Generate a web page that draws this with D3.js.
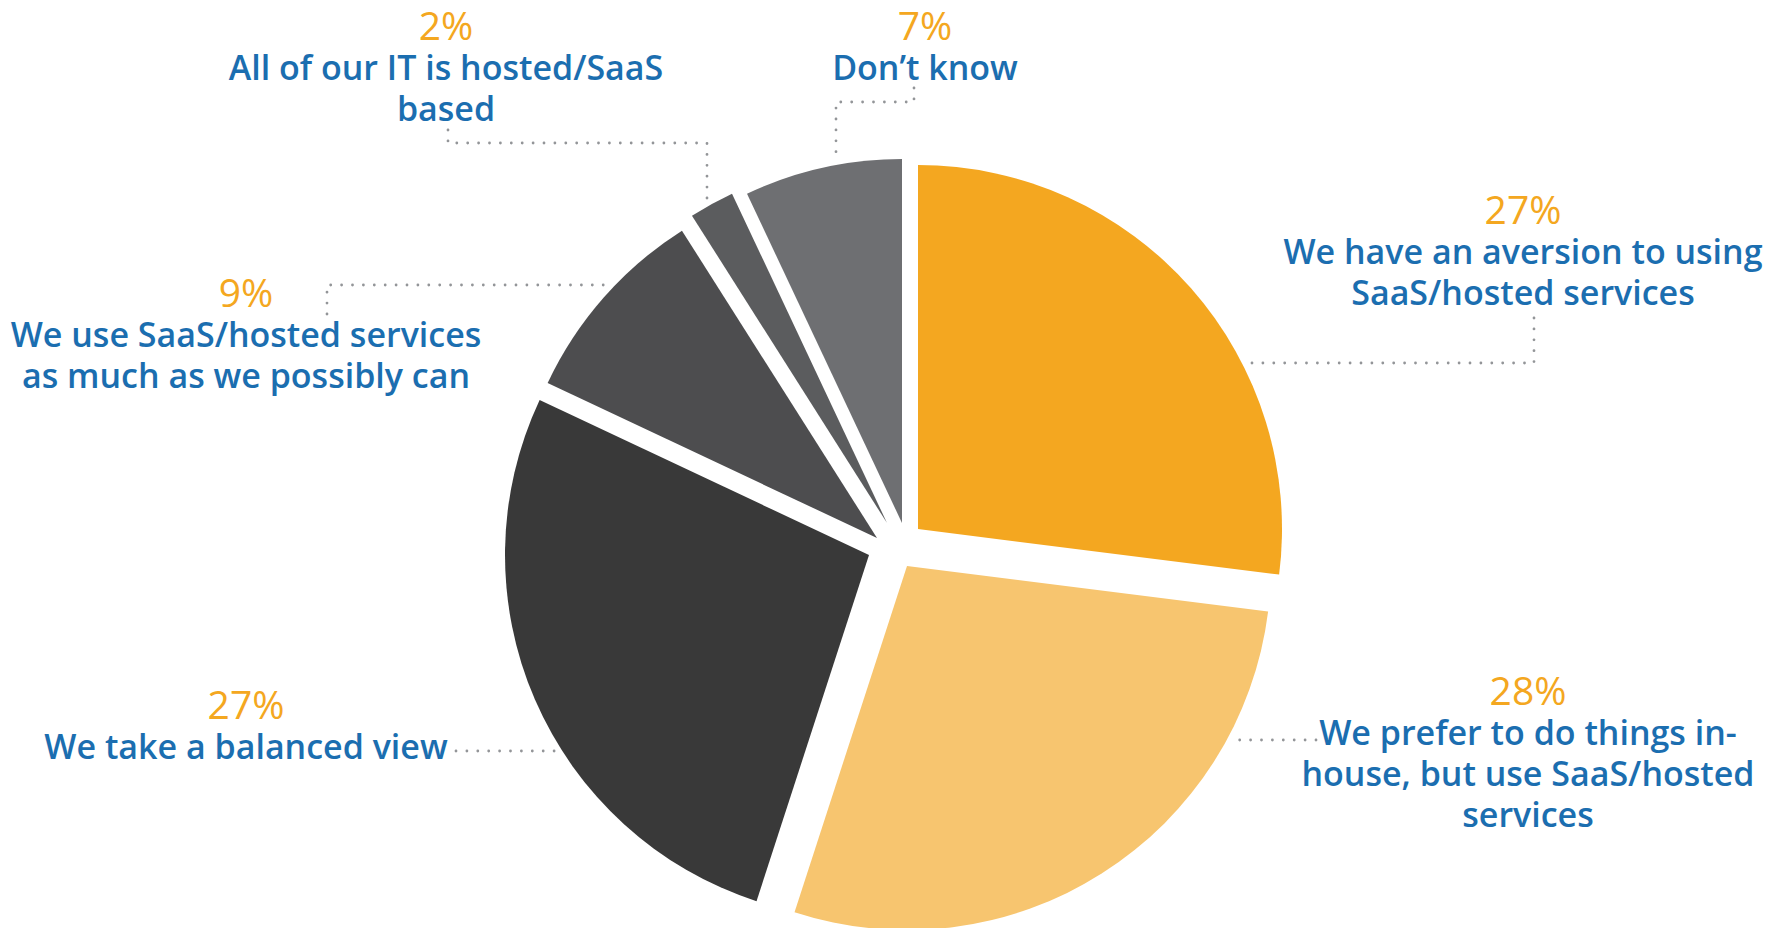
<!DOCTYPE html>
<html>
<head>
<meta charset="utf-8">
<title>SaaS attitudes pie</title>
<script src="https://d3js.org/d3.v7.min.js"></script>
<style>
  body { margin: 0; background: #fff; }
  svg { display: block; }
  .pct { font-family: "Open Sans"; font-size: 39px; fill: #F4A720; text-anchor: middle; }
  .lbl { font-family: "Open Sans"; font-weight: 600; font-size: 34px; fill: #1B6EB0; text-anchor: middle; }
  .leader { fill: none; stroke: #939598; stroke-width: 2.8; stroke-linecap: round; stroke-dasharray: 0 10.9; }
</style>
</head>
<body>
<div id="chart"></div>
<script>
// data, clockwise from 12 o'clock
const categories = [
  "We have an aversion to using SaaS/hosted services",
  "We prefer to do things in-house, but use SaaS/hosted services",
  "We take a balanced view",
  "We use SaaS/hosted services as much as we possibly can",
  "All of our IT is hosted/SaaS based",
  "Don\u2019t know"
];
const shares = [27, 28, 27, 9, 2, 7];
const labelLines = [
  ["We have an aversion to using", "SaaS/hosted services"],
  ["We prefer to do things in-", "house, but use SaaS/hosted", "services"],
  ["We take a balanced view"],
  ["We use SaaS/hosted services", "as much as we possibly can"],
  ["All of our IT is hosted/SaaS", "based"],
  ["Don\u2019t know"]
];
const colors = ["#F4A720", "#F7C56F", "#393939", "#4D4D4F", "#5B5C5E", "#6E6F72"];

const width = 1779, height = 928;
const cx = 895, cy = 545, radius = 364;

// how far each slice is pulled away from the middle
const explode = [[23, -16], [12, 21], [-26, 10], [-18, -7], [-8, -22], [7, -22]];

// label anchor (centre x, baseline of the % line) and the bends of its dotted leader;
// the last leg runs horizontally ("h") or vertically ("v") until it meets the slice
const labelPos = [
  { x: 1523, y: 224, leader: [[1534, 318], [1534, 363]], end: "h" },
  { x: 1528, y: 705, leader: [[1316, 740]], end: "h" },
  { x: 246, y: 719, leader: [[456, 751]], end: "h" },
  { x: 246, y: 307, leader: [[327, 314], [327, 285]], end: "h" },
  { x: 446, y: 40, leader: [[448, 130], [448, 143], [707, 143]], end: "v" },
  { x: 925, y: 40, leader: [[914, 88], [914, 102], [836, 102]], end: "v" }
];
const lineGap = 41, gapToSlice = 6;

const svg = d3.select("#chart").append("svg")
  .attr("width", width)
  .attr("height", height);

const pie = d3.pie().sort(null).value(d => d)(shares);
const arc = d3.arc().innerRadius(0).outerRadius(radius);

const g = svg.append("g").attr("transform", "translate(" + cx + "," + cy + ")");

g.selectAll("path.slice")
  .data(pie)
  .enter()
  .append("path")
    .attr("class", "slice")
    .attr("d", arc)
    .attr("fill", (d, i) => colors[i])
    .attr("transform", (d, i) => "translate(" + explode[i][0] + "," + explode[i][1] + ")");

// leaders
labelPos.forEach((p, i) => {
  const sx = cx + explode[i][0], sy = cy + explode[i][1];
  const pts = p.leader.slice();
  const last = pts[pts.length - 1];
  let endPt;
  if (p.end === "h") {
    const dx = Math.sqrt(radius * radius - (last[1] - sy) * (last[1] - sy));
    const side = last[0] > sx ? 1 : -1;
    endPt = [sx + side * (dx + gapToSlice), last[1]];
  } else {
    const dy = Math.sqrt(radius * radius - (last[0] - sx) * (last[0] - sx));
    endPt = [last[0], sy - dy - gapToSlice];
  }
  pts.push(endPt);
  svg.append("path")
    .attr("class", "leader")
    .attr("d", d3.line()(pts));
});

// labels
labelPos.forEach((p, i) => {
  svg.append("text")
    .attr("class", "pct")
    .attr("x", p.x)
    .attr("y", p.y)
    .text(shares[i] + "%");
  labelLines[i].forEach((line, k) => {
    svg.append("text")
      .attr("class", "lbl")
      .attr("x", p.x)
      .attr("y", p.y + 40 + k * lineGap)
      .text(line);
  });
});
</script>
</body>
</html>
